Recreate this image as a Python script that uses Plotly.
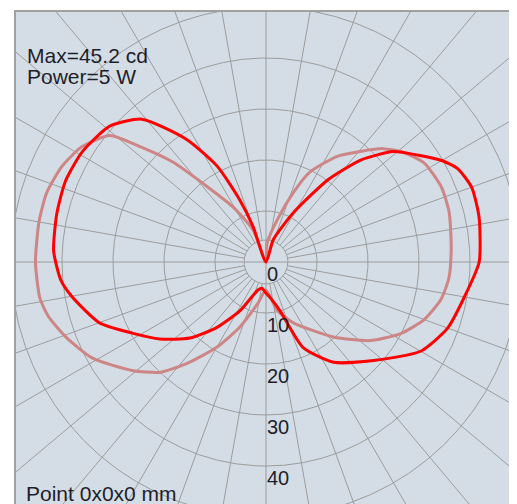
import numpy as np
import plotly.graph_objects as go

# ---- data: luminous intensity (cd) vs angle (deg from nadir, 90 = right, 180 = up, 270 = left)
red_angles = [0, 8, 16, 23.5, 34, 47.5, 60, 70, 80, 90, 102, 110, 116, 120, 125, 131, 137, 143,
              151, 162, 180, 200, 203, 207, 213, 221, 229, 239, 248, 257, 267, 275, 280, 290, 298,
              306, 315, 323, 332, 344, 351, 360]
red_values = [6.1, 7.3, 9.9, 18.3, 23.7, 28.6, 35.0, 37.9, 39.5, 41.8, 42.7, 42.9, 41.8, 39.8, 36.5,
              33.0, 27.4, 20.2, 11.0, 4.6, 0.0, 7.4, 13.3, 21.1, 28.7, 37.1, 40.6, 42.0, 42.4, 42.1,
              41.7, 40.4, 38.7, 34.8, 29.7, 25.7, 21.1, 16.1, 10.8, 5.7, 5.2, 6.1]

pink_angles = [0, 13, 24, 42, 53, 62, 70, 78, 85, 94, 105, 113, 122, 128.5, 134, 139.5, 146, 154,
               158.5, 165, 177, 180, 202, 211, 218, 223, 227.6, 231, 238, 245, 252.5, 260, 270,
               279, 284, 290.6, 299, 309, 316, 322, 330, 338, 349, 360]
pink_values = [5.5, 9.7, 13.0, 19.8, 25.6, 29.9, 33.0, 35.1, 36.0, 36.4, 37.2, 37.4, 36.6, 34.5,
               32.0, 28.5, 25.0, 19.6, 14.6, 8.6, 3.7, 0.0, 6.8, 12.6, 18.8, 26.8, 33.6, 39.4, 42.6,
               44.2, 45.1, 45.2, 45.2, 44.9, 44.0, 41.9, 38.9, 33.8, 30.1, 25.3, 19.3, 13.8, 8.2, 5.5]

ring_values = [10, 20, 30, 40, 50]
ring_labels = ["0", "10", "20", "30", "40"]
label_values = [0, 10, 20, 30, 40]
spoke_step = 10
inner_ring = 4.3
info_lines = ["Max=45.2 cd", "Power=5 W"]
footer_text = "Point 0x0x0 mm"

BG = "#d4dde5"
GRID = "#9c9c9c"
FONT = "Liberation Sans, Arial, sans-serif"
TXT = "#1e1e2a"


def to_xy(angles, values):
    a = np.radians(np.asarray(angles, dtype=float))
    r = np.asarray(values, dtype=float)
    return r * np.sin(a), -r * np.cos(a)


# grid geometry
gx, gy = [], []
t = np.linspace(0, 360, 721)
for rv in [inner_ring] + ring_values:
    x, y = to_xy(t, np.full_like(t, rv))
    gx += list(x) + [None]
    gy += list(y) + [None]
for ang in range(0, 360, spoke_step):
    r0 = 0 if ang % 90 == 0 else inner_ring
    x, y = to_xy([ang, ang], [r0, 80])
    gx += list(x) + [None]
    gy += list(y) + [None]

fig = go.Figure()
fig.add_trace(go.Scatter(x=gx, y=gy, mode="lines", line=dict(color=GRID, width=1),
                         hoverinfo="skip", showlegend=False))
px_, py_ = to_xy(pink_angles, pink_values)
fig.add_trace(go.Scatter(x=px_, y=py_, mode="lines",
                         line=dict(color="#cd8585", width=3, shape="spline", smoothing=0.6),
                         showlegend=False))
rx_, ry_ = to_xy(red_angles, red_values)
fig.add_trace(go.Scatter(x=rx_, y=ry_, mode="lines",
                         line=dict(color="#ff0000", width=3, shape="spline", smoothing=0.6),
                         showlegend=False))

# page has an 8px body margin: figure is placed at (8, 8); plot area spans x 16..513, y 12..504
annotations = []
for lab, v in zip(ring_labels, label_values):
    annotations.append(dict(x=0, y=-v, xref="x", yref="y", text=lab, showarrow=False,
                            xanchor="left", yanchor="middle", yshift=-12, xshift=-1,
                            font=dict(family=FONT, size=20, color=TXT)))
for i, line in enumerate(info_lines):
    annotations.append(dict(x=(25 - 16) / 497, y=(504 - (55 + 21 * i)) / 492, xref="paper",
                            yref="paper", text=line, showarrow=False, xanchor="left",
                            yanchor="middle", font=dict(family=FONT, size=21, color=TXT)))
annotations.append(dict(x=(24 - 16) / 497, y=(504 - 493.5) / 492, xref="paper", yref="paper",
                        text=footer_text, showarrow=False, xanchor="left", yanchor="middle",
                        font=dict(family=FONT, size=21, color=TXT)))

fig.update_layout(
    width=509, height=496,
    margin=dict(l=8, r=4, t=4, b=0),
    paper_bgcolor="white", plot_bgcolor=BG,
    annotations=annotations,
    xaxis=dict(range=[-250 / 5.1, 247 / 5.1], showgrid=False, zeroline=False,
               showticklabels=False, ticks="", showline=True, side="top",
               linecolor="#a0a0a0", linewidth=2, fixedrange=True),
    yaxis=dict(range=[-242 / 5.1, 250 / 5.1], showgrid=False, zeroline=False,
               showticklabels=False, ticks="", showline=True, mirror=True,
               linecolor="#a0a0a0", linewidth=2, fixedrange=True),
)

fig.write_html("out.html")
